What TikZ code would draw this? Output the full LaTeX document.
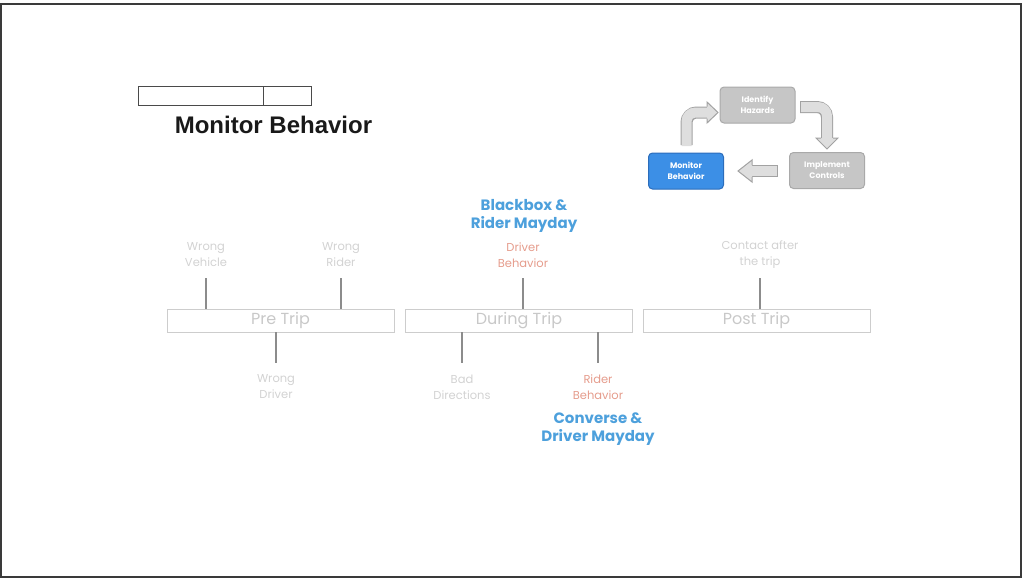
\documentclass[tikz,border=0pt]{standalone}
\usepackage{fontspec}
\setmainfont{Poppins}
\newfontfamily\arialf{Liberation Sans}
\definecolor{framec}{HTML}{3A3A3A}
\definecolor{titlebox}{HTML}{4A4A4A}
\definecolor{lblgray}{HTML}{D2D2D2}
\definecolor{boxborder}{HTML}{CDCDCD}
\definecolor{boxtext}{HTML}{C8C8C8}
\definecolor{linegray}{HTML}{8C8C8C}
\definecolor{redtext}{HTML}{E59C8C}
\definecolor{bluetext}{HTML}{4DA0DC}
\definecolor{cycfill}{HTML}{C6C6C6}
\definecolor{cycborder}{HTML}{A9A9A9}
\definecolor{monfill}{HTML}{3C8FE6}
\definecolor{monborder}{HTML}{2C6DBB}
\definecolor{arrfill}{HTML}{DEDEDE}
\definecolor{arrborder}{HTML}{A2A2A2}
\begin{document}
\begin{tikzpicture}[x=1pt,y=-1pt,
  lbl/.style={font=\fontsize{11.5}{16}\selectfont, text=lblgray, align=center, inner sep=0pt},
  redlbl/.style={lbl, text=redtext},
  phase/.style={draw=boxborder, line width=0.8pt, minimum width=227pt, minimum height=23pt, inner sep=0pt, font=\fontsize{16}{18}\selectfont, text=boxtext},
  conn/.style={draw=linegray, line width=1.2pt},
  cyc/.style={rounded corners=4pt, draw=cycborder, fill=cycfill, line width=1pt, minimum width=75pt, minimum height=36pt, inner sep=0pt, align=center, text=white, font=\fontsize{8}{11}\selectfont\bfseries},
  bluelbl/.style={font=\fontsize{15}{18}\selectfont\bfseries, text=bluetext, align=center, inner sep=0pt},
  tbox/.style={draw=titlebox, line width=1pt, minimum height=19pt, inner sep=0pt},
  arrout/.style={draw=arrborder, line width=12pt, rounded corners=10pt},
  arrin/.style={draw=arrfill, line width=10pt, rounded corners=9pt},
  arrhead/.style={fill=arrfill},
  arrheadline/.style={draw=arrborder, line width=1pt, line join=miter}
]
\useasboundingbox (0,0) rectangle (1024,579);
\draw[framec, line width=1.6pt] (1,4) rectangle (1021,577);

% title
\node[tbox, minimum width=125pt] (tb1) at (200.5,95.5) {};
\node[tbox, minimum width=48pt] (tb2) at (287,95.5) {};
\node[font=\arialf\fontsize{24}{26}\selectfont\bfseries, text=black!90, inner sep=0pt] (title) at (273.5,125) {Monitor Behavior};

% cycle
\node[cyc] (ident) at (757.5,105) {Identify\\Hazards};
\node[cyc] (impl) at (827,170.5) {Implement\\Controls};
\node[cyc, fill=monfill, draw=monborder] (mon) at (686,171) {Monitor\\Behavior};

\coordinate (a1s) at (686.5,145);
\coordinate (a1c) at (686.5,112.5);
\coordinate (a1e) at (707,112.5);
\draw[arrout] (a1s) -- (a1c) -- (a1e);
\draw[arrin] ([yshift=-1pt]a1s) -- (a1c) -- (a1e);
\fill[arrhead] (707,102) -- (718,112.5) -- (707,123) -- cycle;
\draw[arrheadline] (707,106.5) -- (707,102) -- (718,112.5) -- (707,123) -- (707,118.5);

\coordinate (a2s) at (800,107);
\coordinate (a2c) at (827,107);
\coordinate (a2e) at (827,138);
\draw[arrout] (a2s) -- (a2c) -- (a2e);
\draw[arrin] ([xshift=1pt]a2s) -- (a2c) -- (a2e);
\fill[arrhead] (816,138) -- (827,149) -- (838,138) -- cycle;
\draw[arrheadline] (821,138) -- (816,138) -- (827,149) -- (838,138) -- (833,138);

\coordinate (a3s) at (778,171);
\coordinate (a3e) at (752,171);
\draw[arrout] (a3s) -- (a3e);
\draw[arrin] ([xshift=-1pt]a3s) -- (a3e);
\fill[arrhead] (752,160) -- (738,171) -- (752,182) -- cycle;
\draw[arrheadline] (752,165) -- (752,160) -- (738,171) -- (752,182) -- (752,177);

% phases
\node[phase] (pre) at (280.5,320.5) {Pre Trip};
\node[phase] (during) at (519,320.5) {During Trip};
\node[phase] (post) at (756.5,320.5) {Post Trip};

% labels
\node[lbl] (wv) at (206,255) {Wrong\\Vehicle};
\node[lbl] (wr) at (341,255) {Wrong\\Rider};
\node[lbl] (wd) at (276,387) {Wrong\\Driver};
\node[redlbl] (db) at (523,255) {Driver\\Behavior};
\node[lbl] (bd) at (462,387) {Bad\\Directions};
\node[redlbl] (rb) at (598,387) {Rider\\Behavior};
\node[lbl] (ca) at (760,255) {Contact after\\the trip};

\node[bluelbl] (bb) at (524,216) {Blackbox \&\\Rider Mayday};
\node[bluelbl] (cv) at (598,429) {Converse \&\\Driver Mayday};

% connectors
\coordinate (wvt) at (206,278);
\coordinate (wrt) at (341,278);
\coordinate (wdt) at (276,363);
\coordinate (dbt) at (523,278);
\coordinate (bdt) at (462,363);
\coordinate (rbt) at (598,363);
\coordinate (cat) at (760,278);
\draw[conn] (wvt) -- (wvt |- pre.north);
\draw[conn] (wrt) -- (wrt |- pre.north);
\draw[conn] (wdt |- pre.south) -- (wdt);
\draw[conn] (dbt) -- (dbt |- during.north);
\draw[conn] (bdt |- during.south) -- (bdt);
\draw[conn] (rbt |- during.south) -- (rbt);
\draw[conn] (cat) -- (cat |- post.north);
\end{tikzpicture}
\end{document}
